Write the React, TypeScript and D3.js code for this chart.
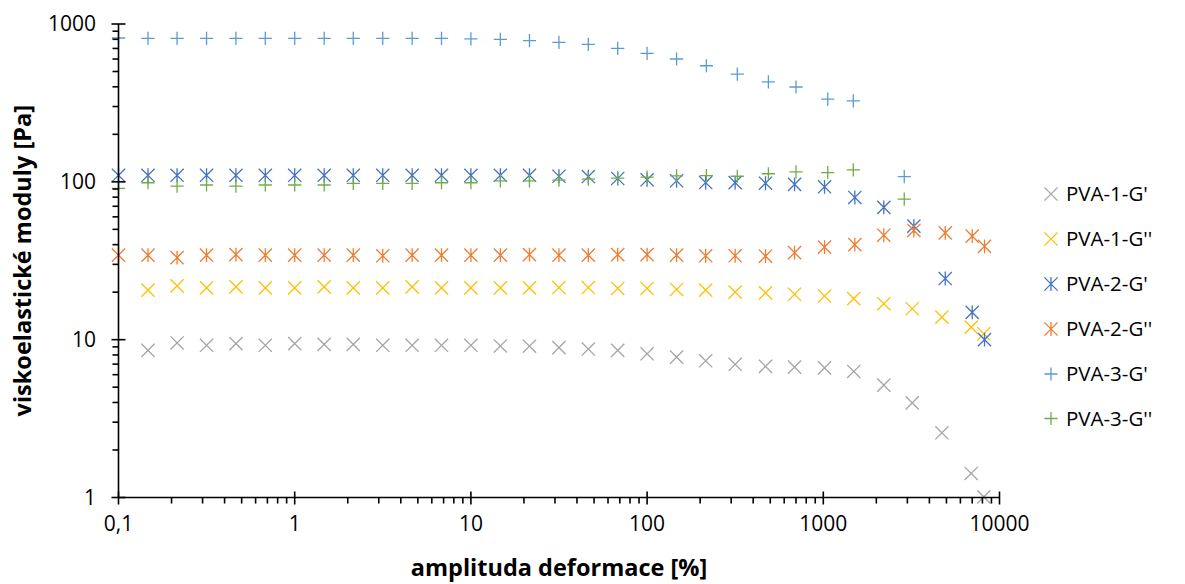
import React from "react";
import * as d3 from "d3";

const xPVA1 = [0.147, 0.215, 0.316, 0.464, 0.681, 1, 1.47, 2.15, 3.16, 4.64, 6.81, 10, 14.7, 21.5, 31.6, 46.4, 68.1, 100, 147, 215, 316, 470, 687, 1016, 1489, 2205, 3197, 4710, 6908, 8147];
const pva1G1 = [8.55, 9.53, 9.21, 9.44, 9.21, 9.44, 9.33, 9.33, 9.21, 9.21, 9.21, 9.21, 9.12, 9.09, 8.9, 8.72, 8.55, 8.14, 7.75, 7.35, 6.98, 6.77, 6.7, 6.63, 6.29, 5.15, 3.98, 2.57, 1.42, 1.01];
const pva1G2 = [20.6, 21.9, 21.3, 21.6, 21.3, 21.3, 21.6, 21.3, 21.3, 21.6, 21.3, 21.3, 21.3, 21.3, 21.4, 21.4, 21.1, 21.1, 20.8, 20.6, 20.0, 19.8, 19.4, 18.9, 18.2, 16.9, 15.7, 13.9, 12.0, 10.9];

const xPVA2 = [0.1, 0.147, 0.215, 0.316, 0.464, 0.681, 1, 1.47, 2.15, 3.16, 4.64, 6.81, 10, 14.7, 21.5, 31.6, 46.4, 68.1, 100, 147, 215, 316, 470, 687, 1016, 1510, 2205, 3266, 4922, 7000, 8221];
const pva2G1 = [110, 110, 110, 110, 110, 110, 110, 110, 110, 110, 110, 110, 110, 110, 110, 108.5, 108, 105, 103, 101.6, 99, 98.8, 98, 96.3, 93, 79.6, 68.9, 52.4, 24.4, 14.9, 10.0];
const pva2G2 = [34.3, 34.3, 33.1, 34.3, 34.6, 34.3, 34.3, 34.3, 34.3, 34.0, 34.3, 34.3, 34.3, 34.3, 34.6, 34.3, 34.3, 34.6, 34.6, 34.3, 34.0, 34.0, 33.8, 35.6, 38.6, 40.0, 45.9, 49.2, 47.5, 45.3, 39.0];

const xPVA3 = [0.1, 0.147, 0.215, 0.316, 0.464, 0.681, 1, 1.47, 2.15, 3.16, 4.64, 6.81, 10, 14.7, 21.5, 31.6, 46.4, 68.1, 100, 147, 217, 325, 488, 700, 1060, 1480, 2880];
const pva3G1 = [815, 812, 812, 812, 812, 812, 812, 812, 812, 812, 812, 812, 805, 800, 784, 765, 743, 701, 652, 600, 544, 482, 430, 399, 334, 326, 108];
const pva3G2 = [91, 98.7, 94, 95.5, 94, 95.5, 95.5, 95.5, 97.9, 97.9, 97.9, 98.7, 98.7, 101.5, 101.5, 102.5, 104, 105.5, 107, 109, 109.5, 108.5, 112.5, 115.6, 114.5, 119, 77.6];

const seriesNames = ["PVA-1-G'", "PVA-1-G''", "PVA-2-G'", "PVA-2-G''", "PVA-3-G'", "PVA-3-G''"];
const seriesColors = ["#A5A5A5", "#FFC000", "#4472C4", "#ED7D31", "#5B9BD5", "#70AD47"];
const seriesShapes = ["x", "x", "star", "star", "plus", "plus"];
const seriesX = [xPVA1, xPVA1, xPVA2, xPVA2, xPVA3, xPVA3];
const seriesY = [pva1G1, pva1G2, pva2G1, pva2G2, pva3G1, pva3G2];

const xTickValues = [0.1, 1, 10, 100, 1000, 10000];
const xTickLabels = ["0,1", "1", "10", "100", "1000", "10000"];
const yTickValues = [1, 10, 100, 1000];
const yTickLabels = ["1", "10", "100", "1000"];
const xTitle = "amplituda deformace [%]";
const yTitle = "viskoelastické moduly [Pa]";

const W = 1185;
const H = 584;
const M = { left: 118.5, right: 999.5, top: 24, bottom: 497.5 };
const FONT = "'Open Sans', 'Noto Sans', sans-serif";

function markerPath(shape: string, s: number): string {
  if (shape === "x") return `M${-s},${-s}L${s},${s}M${-s},${s}L${s},${-s}`;
  if (shape === "star") return `M${-s},${-s}L${s},${s}M${-s},${s}L${s},${-s}M0,${-s * 1.05}L0,${s * 1.05}`;
  return `M${-s},0L${s},0M0,${-s}L0,${s}`;
}

export default function App() {
  const x = d3.scaleLog().domain([0.1, 10000]).range([M.left, M.right]);
  const y = d3.scaleLog().domain([1, 1000]).range([M.bottom, M.top]);

  const minorX: number[] = [];
  for (let e = -1; e < 4; e++) for (let k = 2; k <= 9; k++) minorX.push(k * Math.pow(10, e));
  const minorY: number[] = [];
  for (let e = 0; e < 3; e++) for (let k = 2; k <= 9; k++) minorY.push(k * Math.pow(10, e));

  const sw = 1.3;
  const axisW = 1.6;
  const ms = 6.6;
  const legendY = [194, 239, 284, 329, 374, 418.5];

  return (
    <svg width={W} height={H} style={{ display: "block" }} fontFamily={FONT}>
      <style>{"body{margin:0}"}</style>
      <rect width={W} height={H} fill="#fff" />
      {/* markers */}
      {seriesY.map((ys, si) => (
        <g key={si} stroke={seriesColors[si]} strokeWidth={sw} fill="none">
          {ys.map((v, i) => (
            <path key={i} d={markerPath(seriesShapes[si], ms)} transform={`translate(${x(seriesX[si][i])},${y(v)})`} />
          ))}
        </g>
      ))}
      {/* axes */}
      <g stroke="#000" strokeWidth={axisW}>
        <line x1={M.left} x2={M.right} y1={M.bottom} y2={M.bottom} />
        <line x1={M.left} x2={M.left} y1={M.top} y2={M.bottom} />
        {minorX.map((v, i) => (
          <line key={"mx" + i} x1={x(v)} x2={x(v)} y1={M.bottom} y2={M.bottom + 6} />
        ))}
        {xTickValues.map((v, i) => (
          <line key={"Mx" + i} x1={x(v)} x2={x(v)} y1={M.bottom - 6} y2={M.bottom + 7} />
        ))}
        {minorY.map((v, i) => (
          <line key={"my" + i} x1={M.left - 6} x2={M.left} y1={y(v)} y2={y(v)} />
        ))}
        {yTickValues.map((v, i) => (
          <line key={"My" + i} x1={M.left - 7} x2={M.left + 7} y1={y(v)} y2={y(v)} />
        ))}
      </g>
      {/* tick labels */}
      <g fontSize={21} fill="#000">
        {xTickValues.map((v, i) => (
          <text key={"xl" + i} x={x(v)} y={531} textAnchor="middle">{xTickLabels[i]}</text>
        ))}
        {yTickValues.map((v, i) => (
          <text key={"yl" + i} x={96} y={y(v)} dy="0.35em" textAnchor="end">{yTickLabels[i]}</text>
        ))}
      </g>
      {/* axis titles */}
      <text x={559} y={576} textAnchor="middle" fontSize={23.5} fontWeight="bold">{xTitle}</text>
      <text transform={`translate(31,${(M.top + M.bottom) / 2}) rotate(-90)`} textAnchor="middle" fontSize={23.5} fontWeight="bold">{yTitle}</text>
      {/* legend */}
      {seriesNames.map((n, i) => (
        <g key={"lg" + i} transform={`translate(0,${legendY[i]})`}>
          <path d={markerPath(seriesShapes[i], ms)} transform="translate(1051,0)" stroke={seriesColors[i]} strokeWidth={sw} fill="none" />
          <text x={1066} y={0} dy="0.35em" fontSize={20.5}>{n}</text>
        </g>
      ))}
    </svg>
  );
}
